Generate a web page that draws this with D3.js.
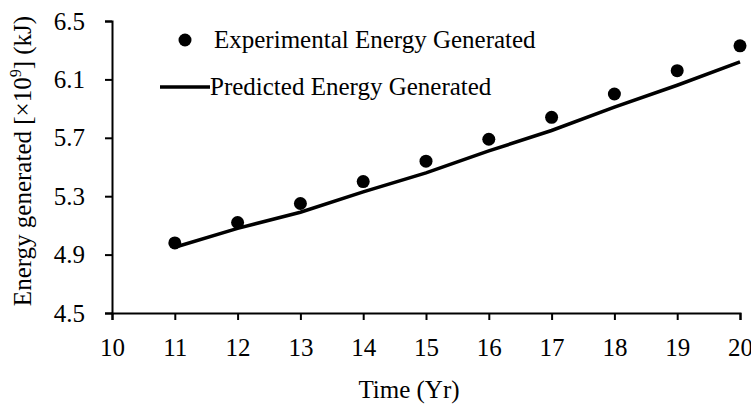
<!DOCTYPE html>
<html>
<head>
<meta charset="utf-8">
<script src="https://cdn.jsdelivr.net/npm/d3@7"></script>
<style>
  body { margin: 0; background: #fff; }
  svg { display: block; font-family: "Liberation Serif", "Times New Roman", serif; }
  .axis path, .axis line { stroke: #000; stroke-width: 2; }
  .axis text { font-size: 25px; fill: #000; font-family: "Liberation Serif", serif; }
</style>
</head>
<body>
<svg id="chart"></svg>
<script>
const years = [11, 12, 13, 14, 15, 16, 17, 18, 19, 20];
const experimental = [4.98, 5.12, 5.25, 5.40, 5.54, 5.69, 5.84, 6.00, 6.16, 6.33];
const predicted = [4.95, 5.08, 5.19, 5.33, 5.46, 5.61, 5.75, 5.91, 6.06, 6.22];
const xTicks = [10, 11, 12, 13, 14, 15, 16, 17, 18, 19, 20];
const yTicks = [4.5, 4.9, 5.3, 5.7, 6.1, 6.5];
const legendLabels = ['Experimental Energy Generated', 'Predicted Energy Generated'];

const WIDTH = 751;
const HEIGHT = 408;
const margin = { top: 21, right: 11, bottom: 95, left: 112 };
const width = WIDTH - margin.left - margin.right;
const height = HEIGHT - margin.top - margin.bottom;

const x = d3.scaleLinear().domain([10, 20]).range([0, width]);
const y = d3.scaleLinear().domain([4.5, 6.5]).range([height, 0]);

const svg = d3.select('#chart')
  .attr('width', WIDTH)
  .attr('height', HEIGHT)
  .append('g')
  .attr('transform', `translate(${margin.left},${margin.top})`);

const xAxis = svg.append('g')
  .attr('class', 'axis')
  .attr('transform', `translate(0,${height})`)
  .call(d3.axisBottom(x).tickValues(xTicks).tickFormat(d3.format('d')).tickSizeOuter(0).tickSize(7));
xAxis.selectAll('.tick text').attr('y', 43).attr('dy', 0);

svg.append('g')
  .attr('class', 'axis')
  .call(d3.axisLeft(y).tickValues(yTicks).tickFormat(d3.format('.1f')).tickSizeOuter(0).tickSize(7).tickPadding(20));

const rows = years.map((yr, i) => ({ yr, exp: experimental[i], pred: predicted[i] }));

svg.append('path')
  .datum(rows)
  .attr('fill', 'none')
  .attr('stroke', '#000')
  .attr('stroke-width', 3.5)
  .attr('d', d3.line().x(d => x(d.yr)).y(d => y(d.pred)));

svg.selectAll('circle.pt')
  .data(rows)
  .enter()
  .append('circle')
  .attr('class', 'pt')
  .attr('r', 6.5)
  .attr('cx', d => x(d.yr))
  .attr('cy', d => y(d.exp));

// legend
const legend = d3.select('#chart').append('g').attr('font-size', 25);
legend.append('circle').attr('cx', 185).attr('cy', 40).attr('r', 6.5);
legend.append('text').attr('x', 214).attr('y', 48).text(legendLabels[0]);
legend.append('line').attr('x1', 160).attr('x2', 210).attr('y1', 87).attr('y2', 87)
  .attr('stroke', '#000').attr('stroke-width', 3.5);
legend.append('text').attr('x', 210).attr('y', 95).text(legendLabels[1]);

// axis titles
d3.select('#chart').append('text')
  .attr('x', 409)
  .attr('y', 398)
  .attr('text-anchor', 'middle')
  .attr('font-size', 25)
  .text('Time (Yr)');

const yTitle = d3.select('#chart').append('text')
  .attr('transform', 'translate(31,161) rotate(-90)')
  .attr('text-anchor', 'middle')
  .attr('font-size', 25);
yTitle.append('tspan').text('Energy generated [×10');
yTitle.append('tspan').attr('font-size', 16).attr('dy', -10).text('9');
yTitle.append('tspan').attr('dy', 10).text('] (kJ)');
</script>
</body>
</html>
